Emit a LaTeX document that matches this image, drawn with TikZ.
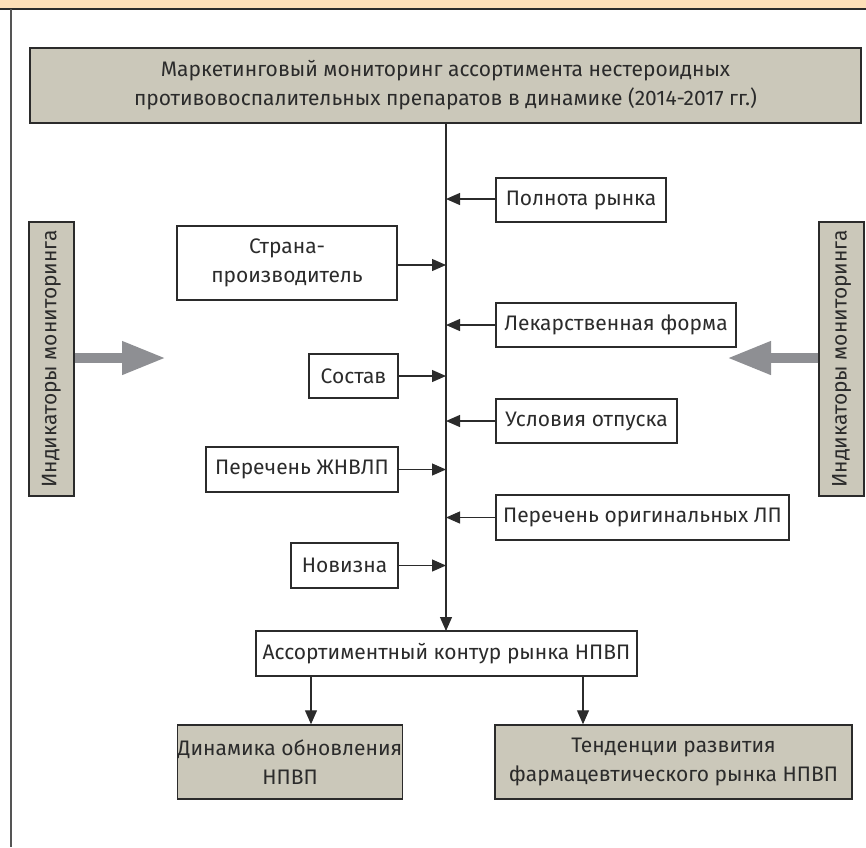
\documentclass[tikz,border=0pt]{standalone}
\usepackage{fontspec}
\setmainfont{Fira Sans}
\usetikzlibrary{arrows.meta}
\definecolor{bandpeach}{HTML}{FDDFB8}
\definecolor{boxgray}{HTML}{CBC8BA}
\definecolor{arrgray}{HTML}{8E8F93}
\definecolor{inkgray}{HTML}{2B2B2B}

\begin{document}
\begin{tikzpicture}[x=1pt,y=-1pt,
  font=\fontsize{21}{29}\selectfont, text=inkgray,
  whitebox/.style={draw=inkgray, line width=1.2pt, fill=white, rectangle, inner sep=0pt, align=center},
  graybox/.style={whitebox, fill=boxgray, line width=1.5pt},
  arr/.style={draw=inkgray, line width=1.2pt, -{Triangle[length=14pt,width=12pt]}},
  fatarr/.style={draw=arrgray, line width=10pt, -{Triangle[length=44pt,width=31pt]}}]
\useasboundingbox (0,0) rectangle (866,847);

% frame
\fill[bandpeach] (0,0) rectangle (866,8);
\draw[inkgray, line width=2pt] (0,9) -- (866,9);
\draw[inkgray!80, line width=1.5pt] (11,9) -- (11,847);

\node[graybox, minimum width=831, minimum height=75] (top) at (445.5,85.5)
  {Маркетинговый мониторинг ассортимента нестероидных\\противовоспалительных препаратов в динамике (2014-2017 гг.)};

\node[graybox, rotate=90, minimum width=274, minimum height=45] (indl) at (51.5,359) {Индикаторы мониторинга};
\node[graybox, rotate=90, minimum width=274, minimum height=45] (indr) at (841.5,359) {Индикаторы мониторинга};

% left column
\node[whitebox, minimum width=220, minimum height=74] (strana) at (287,263) {Страна-\\производитель};
\node[whitebox, minimum width=89, minimum height=44] (sostav) at (353.5,376) {Состав};
\node[whitebox, minimum width=192, minimum height=45] (zhnvlp) at (302,469.5) {Перечень ЖНВЛП};
\node[whitebox, minimum width=107, minimum height=45] (novizna) at (344.5,565.5) {Новизна};

% right column
\node[whitebox, minimum width=170, minimum height=44] (polnota) at (581,200) {Полнота рынка};
\node[whitebox, minimum width=240, minimum height=44] (forma) at (616,325) {Лекарственная форма};
\node[whitebox, minimum width=181, minimum height=44] (uslovia) at (586.5,421) {Условия отпуска};
\node[whitebox, minimum width=293, minimum height=45] (orig) at (642.5,517.5) {Перечень оригинальных ЛП};

\node[whitebox, minimum width=381, minimum height=45] (assort) at (446.5,653.5) {Ассортиментный контур рынка НПВП};

\node[graybox, minimum width=218, minimum height=74] (dyn) at (290,762) {Динамика обновления\\НПВП};
\node[graybox, minimum width=357, minimum height=74] (tend) at (673.5,762) {Тенденции развития\\фармацевтического рынка НПВП};

% trunk
\coordinate (trunktop) at (446,123);
\coordinate (trunkbot) at (446,631);
\draw[arr] (trunktop) -- (trunkbot);

\draw[arr] (strana.east |- 0,265) -- (trunktop |- 0,265);
\draw[arr] (sostav.east) -- (sostav.east -| trunktop);
\draw[arr] (zhnvlp.east) -- (zhnvlp.east -| trunktop);
\draw[arr] (novizna.east) -- (novizna.east -| trunktop);

\draw[arr] (polnota.west |- 0,199) -- (trunktop |- 0,199);
\draw[arr] (forma.west) -- (forma.west -| trunktop);
\draw[arr] (uslovia.west) -- (uslovia.west -| trunktop);
\draw[arr] (orig.west) -- (orig.west -| trunktop);

\coordinate (dl) at (311,676);
\coordinate (dr) at (583,676);
\draw[arr] (dl) -- (dl |- dyn.north);
\draw[arr] (dr) -- (dr |- tend.north);

\draw[fatarr] (indl.south |- 0,358) -- (166,358);
\draw[fatarr] (indr.north |- 0,358) -- (727,358);

\end{tikzpicture}
\end{document}
